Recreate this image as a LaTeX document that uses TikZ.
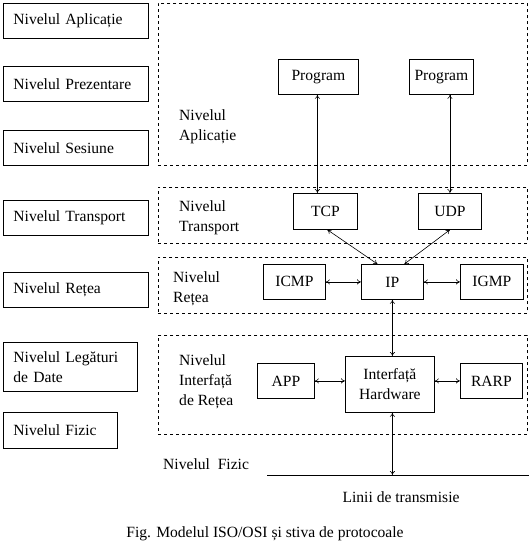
\documentclass[tikz,border=0pt]{standalone}
\usepackage{fontspec}
\setmainfont{Liberation Serif}
\usetikzlibrary{arrows.meta,positioning}
\tikzset{
  layer/.style={draw,line width=0.8pt,anchor=north west,align=left,inner xsep=10pt,inner ysep=0pt,minimum height=35pt},
  group/.style={draw,dashed,line width=0.8pt,anchor=north west,inner sep=0pt},
  grplbl/.style={anchor=west,align=left,inner sep=0pt},
  proto/.style={draw,line width=0.8pt,anchor=north west,inner sep=0pt,align=center},
  link/.style={{To[length=4pt,width=5pt]}-{To[length=4pt,width=5pt]},line width=0.6pt},
}
\begin{document}
\begin{tikzpicture}[x=1pt,y=-1pt,font=\fontsize{15.6}{20}\selectfont]
    \useasboundingbox (0,0) rectangle (529,556);
    % the seven OSI layers
    \node[layer,text width=125pt] (osiapl) at (3,3) {Nivelul Aplicație};
    \node[layer,text width=125pt] (osipre) at (3,66) {Nivelul Prezentare};
    \node[layer,text width=125pt] (osises) at (3,130) {Nivelul Sesiune};
    \node[layer,text width=125pt] (ositra) at (3,200) {Nivelul Transport};
    \node[layer,text width=125pt] (osiret) at (3,272) {Nivelul Rețea};
    \node[layer,text width=114pt,minimum height=49pt] (osileg) at (3,342) {Nivelul Legături\\de Date};
    \node[layer,text width=94pt,minimum height=36pt] (osifiz) at (3,412) {Nivelul Fizic};
    % the TCP/IP groups
    \node[group,minimum width=369pt,minimum height=162pt] (gapl) at (158,3) {};
    \node[group,minimum width=369pt,minimum height=56pt] (gtra) at (158,187) {};
    \node[group,minimum width=369pt,minimum height=56pt] (gret) at (158,257) {};
    \node[group,minimum width=369pt,minimum height=99pt] (gint) at (158,335) {};
    \node[grplbl] (lapl) at (179,127) {Nivelul\\Aplicație};
    \node[grplbl] (ltra) at (179,218) {Nivelul\\Transport};
    \node[grplbl,fill=white,inner xsep=10pt,inner ysep=6pt] (lret) at (163,289) {Nivelul\\Rețea\hspace{12pt}};
    \node[grplbl] (lint) at (179,382) {Nivelul\\Interfață\\de Rețea};
    % protocols
    \node[proto,minimum width=80pt,minimum height=35pt] (prog1) at (278,59) {Program};
    \node[proto,minimum width=64pt,minimum height=35pt] (prog2) at (409,59) {Program};
    \node[proto,minimum width=64pt,minimum height=36pt] (tcp) at (293,193) {TCP};
    \node[proto,minimum width=63pt,minimum height=36pt] (udp) at (418,193) {UDP};
    \node[proto,minimum width=62pt,minimum height=35pt] (icmp) at (263,264) {ICMP};
    \node[proto,minimum width=62pt,minimum height=35pt] (ip) at (361,264) {IP};
    \node[proto,minimum width=63pt,minimum height=35pt] (igmp) at (460,264) {IGMP};
    \node[proto,minimum width=57pt,minimum height=35pt] (app) at (257,363) {APP};
    \node[proto,minimum width=89pt,minimum height=56pt] (hw) at (345,356) {Interfață\\Hardware};
    \node[proto,minimum width=62pt,minimum height=35pt] (rarp) at (460,363) {RARP};
    % physical line
    \coordinate (lnl) at (267,475);
    \coordinate (lnr) at (529,475);
    \draw[line width=0.8pt] (lnl) -- (lnr);
    \node[grplbl] (lfiz) at (163,464) {Nivelul~ Fizic};
    \node (linii) at (401,497) {Linii de transmisie};
    \node (caption) at (265,534) {Fig. Modelul ISO/OSI și stiva de protocoale};
    % connectors
    \draw[link] ([xshift=-8pt]tcp.north |- prog1.south) -- ([xshift=-8pt]tcp.north);
    \draw[link] (udp.north |- prog2.south) -- (udp.north);
    \draw[link] ([xshift=2pt]tcp.south) -- ([xshift=-15pt]ip.north);
    \draw[link] (udp.south) -- ([xshift=12pt]ip.north);
    \draw[link] (icmp) -- (ip);
    \draw[link] (ip) -- (igmp);
    \draw[link] (ip.south) -- (ip.south |- hw.north);
    \draw[link] (app) -- (app -| hw.west);
    \draw[link] (rarp -| hw.east) -- (rarp);
    \draw[link] (ip.south |- hw.south) -- (ip.south |- lnl);
  \end{tikzpicture}
\end{document}
